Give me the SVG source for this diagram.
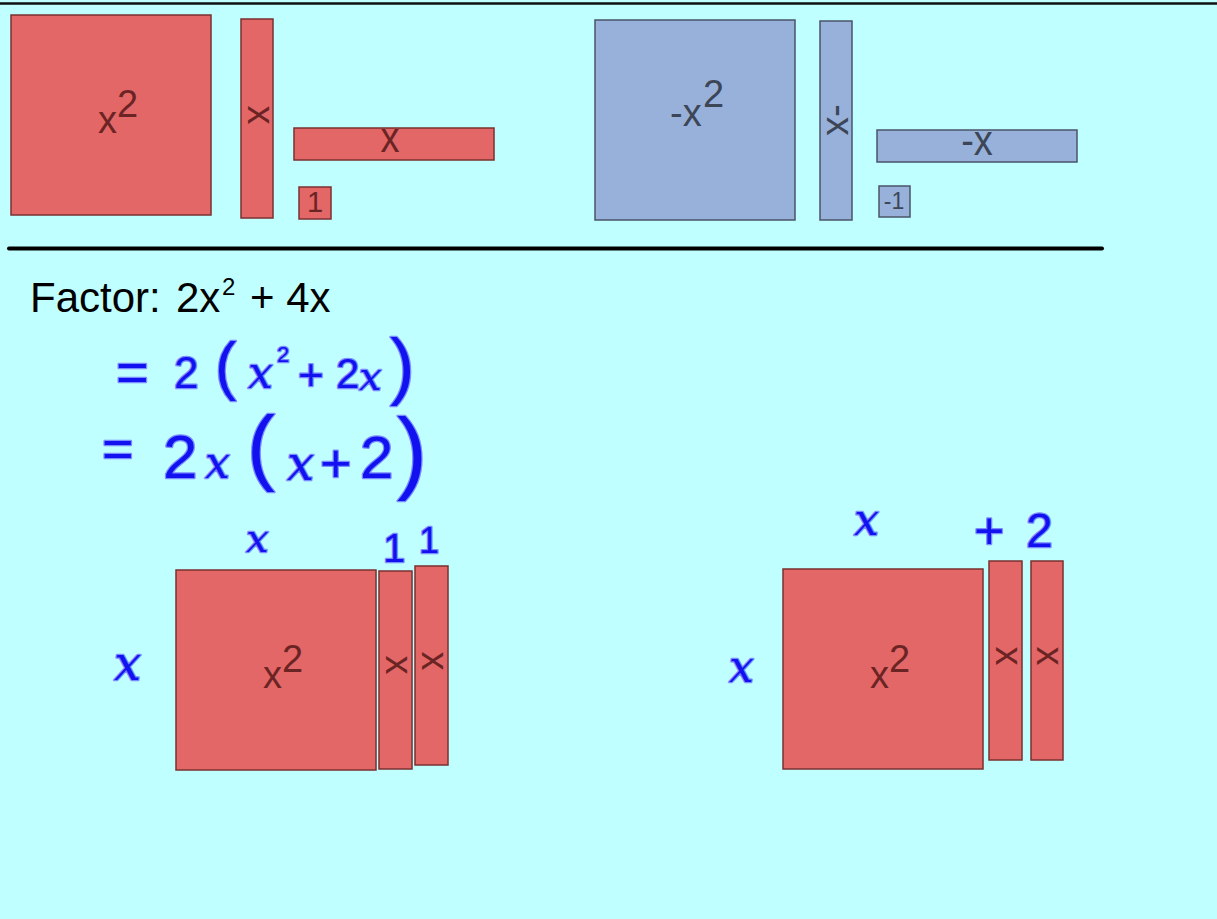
<svg xmlns="http://www.w3.org/2000/svg" width="1217" height="919" viewBox="0 0 1217 919">
<style>
.red{fill:#E36767;stroke:#7A3030;stroke-width:1.5}
.blue{fill:#97B1DA;stroke:#4A5568;stroke-width:1.5}
.rt{font-family:"Liberation Sans",Arial,sans-serif;fill:#6B2424}
.bt{font-family:"Liberation Sans",Arial,sans-serif;fill:#3C4656}
.blk{font-family:"Liberation Sans",Arial,sans-serif;fill:#000}
.ink{font-family:"Liberation Sans",Arial,sans-serif;fill:#1212F0;stroke:#7A8CFF;stroke-width:2.5;paint-order:stroke;stroke-linejoin:round}
.inkx{font-family:"DejaVu Serif",serif;font-style:italic;fill:#1212F0;stroke:#7A8CFF;stroke-width:2.5;paint-order:stroke;stroke-linejoin:round}
</style>
<rect x="0" y="0" width="1217" height="919" fill="#C0FFFF"/>
<g id="rules">
<line x1="0" y1="3.5" x2="1217" y2="3.5" stroke="#111" stroke-width="2.5"/>
<line x1="9" y1="248.5" x2="1102" y2="248.5" stroke="#000" stroke-width="4" stroke-linecap="round"/>
</g>
<g id="connectors"></g>
<g id="tile-x2">
<rect class="red" x="11" y="15" width="200" height="200"/>
<text class="rt" font-size="38"><tspan x="98" y="133">x</tspan><tspan x="117" y="117">2</tspan></text>
</g>
<g id="tile-xv">
<rect class="red" x="241" y="19" width="32" height="199"/>
<text class="rt" font-size="38" text-anchor="middle" transform="translate(258,115) rotate(90)" y="10">x</text>
</g>
<g id="tile-xh">
<rect class="red" x="294" y="128" width="200" height="32"/>
<text class="rt" font-size="38" text-anchor="middle" x="390" y="152" transform="translate(0,-15) scale(1,1.1)">x</text>
</g>
<g id="tile-1">
<rect class="red" x="299" y="187" width="32" height="32"/>
<text class="rt" font-size="29" text-anchor="middle" x="315" y="212">1</text>
</g>
<g id="tile-negx2">
<rect class="blue" x="595" y="20" width="200" height="200"/>
<text class="bt" font-size="38"><tspan x="670" y="126">-x</tspan><tspan x="703" y="107">2</tspan></text>
</g>
<g id="tile-negxv">
<rect class="blue" x="820" y="21" width="32" height="199"/>
<text class="bt" font-size="38" text-anchor="middle" transform="translate(837,120) rotate(90)" y="10">-x</text>
</g>
<g id="tile-negxh">
<rect class="blue" x="877" y="130" width="200" height="32"/>
<text class="bt" font-size="38" text-anchor="middle" x="977" y="155" transform="translate(0,-15.5) scale(1,1.1)">-x</text>
</g>
<g id="tile-neg1">
<rect class="blue" x="879" y="186" width="31" height="31"/>
<text class="bt" font-size="23" text-anchor="middle" x="894" y="209">-1</text>
</g>
<g id="factor-title">
<text class="blk" font-size="42"><tspan x="30" y="312">Factor:</tspan><tspan x="176" y="312">2x</tspan><tspan x="222" y="295" font-size="24">2</tspan><tspan x="250" y="312">+ 4x</tspan></text>
</g>
<g id="ink-line1">
<text class="ink" font-size="56" x="116" y="391">=</text>
<text class="ink" font-size="44" x="174" y="388">2</text>
<text class="ink" font-size="64" x="215" y="388">(</text>
<text class="inkx" font-size="44" x="248" y="388">x</text>
<text class="ink" font-size="22" x="277" y="362">2</text>
<text class="ink" font-size="44" x="298" y="390">+</text>
<text class="ink" font-size="42" x="336" y="388">2</text>
<text class="inkx" font-size="40" x="359" y="390">x</text>
<text class="ink" font-size="74" x="390" y="391">)</text>
</g>
<g id="ink-line2">
<text class="ink" font-size="54" x="102" y="467">=</text>
<text class="ink" font-size="62" x="163" y="478">2</text>
<text class="inkx" font-size="44" x="205" y="478">x</text>
<text class="ink" font-size="84" x="247" y="475">(</text>
<text class="inkx" font-size="48" x="287" y="480">x</text>
<text class="ink" font-size="54" x="320" y="482">+</text>
<text class="ink" font-size="60" x="360" y="478">2</text>
<text class="ink" font-size="90" x="397" y="482">)</text>
</g>
<g id="model-left">
<rect class="red" x="176" y="570" width="200" height="200"/>
<text class="rt" font-size="38"><tspan x="263" y="688">x</tspan><tspan x="282" y="672">2</tspan></text>
<rect class="red" x="379" y="571" width="33" height="198"/>
<text class="rt" font-size="38" text-anchor="middle" transform="translate(396,665) rotate(90)" y="10">x</text>
<rect class="red" x="415" y="566" width="33" height="199"/>
<text class="rt" font-size="38" text-anchor="middle" transform="translate(432,661) rotate(90)" y="10">x</text>
<text class="inkx" font-size="40" x="246" y="552">x</text>
<text class="ink" font-size="40" x="383" y="562">1</text>
<text class="ink" font-size="36" x="419" y="553">1</text>
<text class="inkx" font-size="48" x="114" y="680">x</text>
</g>
<g id="model-right">
<rect class="red" x="783" y="569" width="200" height="200"/>
<text class="rt" font-size="38"><tspan x="870" y="688">x</tspan><tspan x="889" y="672">2</tspan></text>
<rect class="red" x="989" y="561" width="33" height="199"/>
<text class="rt" font-size="38" text-anchor="middle" transform="translate(1006,656) rotate(90)" y="10">x</text>
<rect class="red" x="1031" y="561" width="32" height="199"/>
<text class="rt" font-size="38" text-anchor="middle" transform="translate(1047,656) rotate(90)" y="10">x</text>
<text class="inkx" font-size="44" x="854" y="535">x</text>
<text class="ink" font-size="52" x="974" y="549">+</text>
<text class="ink" font-size="48" x="1026" y="547">2</text>
<text class="inkx" font-size="44" x="729" y="682">x</text>
</g>
</svg>
